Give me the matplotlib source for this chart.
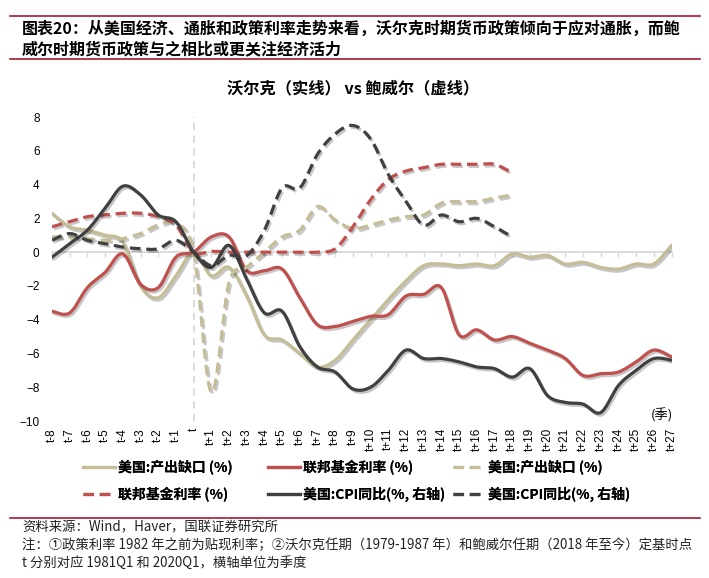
import matplotlib
matplotlib.use("Agg")
import matplotlib.pyplot as plt
import matplotlib.patheffects as pe
from matplotlib.lines import Line2D
import numpy as np

plt.rcParams['font.family'] = ['Noto Sans CJK SC', 'DejaVu Sans']

# x categories: t-8 ... t ... t+27 (quarters)
quarters = ['t-%d' % k for k in range(8, 0, -1)] + ['t'] + ['t+%d' % k for k in range(1, 28)]

# Volcker (solid lines), 36 quarters
volcker_gap = [2.3, 1.5, 1.3, 1.0, 0.6, -2.0, -2.7, -1.4, 0.0, -1.4, -0.9, -2.6,
               -4.9, -5.2, -6.0, -6.8, -6.4, -5.2, -4.0, -2.8, -1.7, -0.8, -0.7, -0.8,
               -0.7, -0.8, -0.1, -0.3, -0.2, -0.7, -0.6, -0.9, -1.0, -0.7, -0.7, 0.4]
volcker_ffr = [-3.5, -3.6, -2.1, -1.2, -0.1, -1.9, -2.1, -0.3, 0.0, 0.9, 0.9, -1.1,
               -1.1, -1.0, -2.7, -4.3, -4.4, -4.1, -3.8, -3.7, -2.6, -2.5, -2.1, -4.9,
               -4.6, -5.2, -5.0, -5.4, -5.8, -6.3, -7.3, -7.2, -7.1, -6.5, -5.8, -6.2]
volcker_cpi = [-0.3, 0.5, 1.3, 2.6, 3.9, 3.4, 2.2, 1.8, 0.0, -0.9, 0.4, -1.6,
               -3.6, -3.5, -5.6, -6.8, -7.1, -8.1, -8.0, -7.0, -5.8, -6.3, -6.3, -6.5,
               -6.8, -6.9, -7.4, -6.9, -8.5, -8.9, -9.0, -9.5, -7.9, -7.0, -6.3, -6.4]

# Powell (dashed lines), t-8 ... t+18
powell_gap = [0.9, 0.9, 0.8, 0.7, 0.8, 1.1, 1.6, 1.7, 0.0, -8.3, -1.8, -0.9,
              0.0, 0.9, 1.3, 2.7, 1.9, 1.4, 1.6, 1.9, 2.1, 2.2, 2.9, 3.0, 3.0, 3.2, 3.4]
powell_ffr = [1.5, 1.8, 2.1, 2.2, 2.3, 2.3, 2.1, 1.6, 0.0, 0.05, 0.0, 0.0,
              0.0, 0.0, 0.0, 0.0, 0.2, 1.5, 3.1, 4.3, 4.8, 5.0, 5.2, 5.2, 5.2, 5.2, 4.7]
powell_cpi = [0.7, 1.1, 0.7, 0.5, 0.3, 0.2, 0.2, 0.7, 0.0, -0.8, -0.2, -0.2,
              1.3, 3.8, 3.8, 5.8, 7.0, 7.5, 6.7, 4.6, 3.0, 1.6, 2.2, 1.8, 2.0, 1.5, 0.9]

labels = ['美国:产出缺口 (%)', '联邦基金利率 (%)', '美国:CPI同比(%, 右轴)']

TAN = '#C4BD97'
RED = '#C0504D'
DARK = '#404040'
LINE_RED = '#A6192E'
GRID = '#D9D9D9'


def smooth(ys, n=16):
    # Excel-style smoothed line (Bezier through every point)
    xs = np.arange(len(ys), dtype=float)
    p = np.column_stack([xs, np.asarray(ys, dtype=float)])
    pad = np.vstack([p[0], p, p[-1]])
    t = np.linspace(0, 1, n, endpoint=False)[:, None]
    segs = []
    for i in range(len(p) - 1):
        p0, p1, p2, p3 = pad[i], pad[i + 1], pad[i + 2], pad[i + 3]
        c1 = p1 + (p2 - p0) / 6
        c2 = p2 - (p3 - p1) / 6
        segs.append((1 - t) ** 3 * p1 + 3 * (1 - t) ** 2 * t * c1
                    + 3 * (1 - t) * t ** 2 * c2 + t ** 3 * p2)
    segs.append(p[-1:])
    out = np.vstack(segs)
    return out[:, 0], out[:, 1]


fig = plt.figure(figsize=(7.09, 5.78), dpi=100)
ax = fig.add_axes([52 / 709, 1 - 421 / 578, (671.5 - 52) / 709, (421 - 117) / 578])

shadow = [pe.SimpleLineShadow(offset=(1.2, -1.5), shadow_color='black', alpha=0.22),
          pe.Normal()]
dash = (3.3, 1.8)
lw = 2.3

series = [
    (volcker_gap, TAN, '-'),
    (volcker_ffr, RED, '-'),
    (powell_gap, TAN, '--'),
    (powell_ffr, RED, '--'),
    (volcker_cpi, DARK, '-'),
    (powell_cpi, DARK, '--'),
]
handles = []
for ys, col, ls in series:
    sx, sy = smooth(ys)
    ln, = ax.plot(sx, sy, color=col, lw=lw, solid_capstyle='round',
                  dash_capstyle='butt', path_effects=shadow, zorder=3)
    if ls == '--':
        ln.set_dashes(dash)
    h = Line2D([], [], color=col, lw=lw)
    if ls == '--':
        h.set_dashes(dash)
    handles.append(h)

ax.set_xlim(0, len(quarters) - 1)
ax.set_ylim(-10, 8)
ax.set_yticks(np.arange(-10, 9, 2))
ax.axvline(quarters.index('t'), color=GRID, lw=1.3, ls=(0, (4, 3)), zorder=1)

for s in ['top', 'right', 'left']:
    ax.spines[s].set_visible(False)
ax.spines['bottom'].set_position(('data', 0))
ax.spines['bottom'].set_color(GRID)
ax.spines['bottom'].set_linewidth(1.3)
ax.spines['bottom'].set_zorder(2)
ax.set_xticks(np.arange(len(quarters)))
ax.tick_params(axis='x', direction='out', length=3.5, color=GRID, width=1,
               labelbottom=False)
ax.tick_params(axis='y', length=0, pad=9, labelsize=8.5)
for lab in ax.get_yticklabels():
    lab.set_fontfamily('Liberation Sans')

sec = ax.secondary_xaxis(0.0)
sec.set_xticks(np.arange(len(quarters)), quarters, rotation=90, fontsize=8.5,
               fontfamily='Liberation Sans')
sec.spines['bottom'].set_visible(False)
sec.tick_params(length=0, pad=5)

ax.text(0.985, 0.02, '(季)', transform=ax.transAxes, ha='center', va='center',
        fontsize=9.5)

# header
fig.add_artist(Line2D([10 / 709, 700 / 709], [1 - 16 / 578] * 2, color=LINE_RED, lw=1.2))
fig.add_artist(Line2D([10 / 709, 700 / 709], [1 - 59 / 578] * 2, color=LINE_RED, lw=1.2))
fig.text(22 / 709, 1 - 29 / 578,
         '图表20：从美国经济、通胀和政策利率走势来看，沃尔克时期货币政策倾向于应对通胀，而鲍',
         fontsize=11.5, fontweight='bold', va='center', ha='left')
fig.text(22 / 709, 1 - 49 / 578, '威尔时期货币政策与之相比或更关注经济活力',
         fontsize=11.5, fontweight='bold', va='center', ha='left')
fig.text(353 / 709, 1 - 88 / 578, '沃尔克（实线） vs 鲍威尔（虚线）',
         fontsize=11.7, fontweight='bold', va='center', ha='center')

# legend: 3 columns x 2 rows
entry_labels = [labels[0], labels[1], labels[0], labels[1], labels[2], labels[2]]
col_x = [83, 268, 453]
row_y = [467, 494]
for k, (h, lab) in enumerate(zip(handles, entry_labels)):
    r, c = divmod(k, 3)
    leg = fig.legend([h], [lab], loc='center left',
                     bbox_to_anchor=(col_x[c] / 709, 1 - row_y[r] / 578),
                     frameon=False, borderpad=0, borderaxespad=0,
                     handlelength=2.3, handletextpad=0.25,
                     prop={'size': 10, 'weight': 'bold'})
    fig.add_artist(leg)

# footer
fig.add_artist(Line2D([10 / 709, 700 / 709], [1 - 518 / 578] * 2, color=LINE_RED, lw=1.2))
foot = ['资料来源：Wind，Haver，国联证券研究所',
        '注：①政策利率 1982 年之前为贴现利率；②沃尔克任期（1979-1987 年）和鲍威尔任期（2018 年至今）定基时点',
        't 分别对应 1981Q1 和 2020Q1，横轴单位为季度']
for j, txt in enumerate(foot):
    fig.text(22 / 709, 1 - (527 + 18 * j) / 578, txt, fontsize=9.6,
             color='#222222', va='center', ha='left')

fig.savefig('out.png', dpi=100)
